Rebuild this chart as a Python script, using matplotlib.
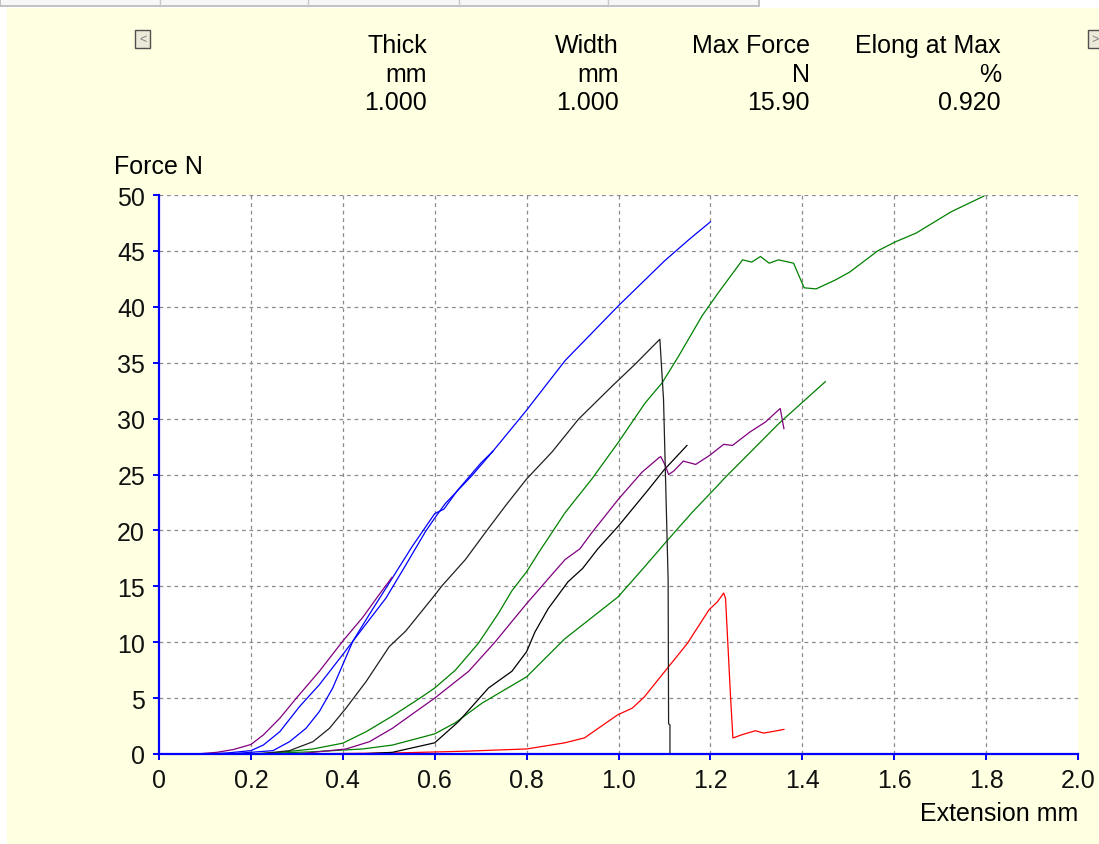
import numpy as np
import matplotlib
matplotlib.use("Agg")
import matplotlib.pyplot as plt
from matplotlib.patches import Rectangle

plt.rcParams['font.family'] = ['Liberation Sans', 'DejaVu Sans']

# ---- tensile test curves: extension (mm) vs force (N) ----
ext_purple_a = [0.0, 0.08, 0.126, 0.162, 0.2, 0.227, 0.263, 0.299, 0.349, 0.4, 0.443, 0.479, 0.507]
force_purple_a = [0, 0, 0.15, 0.4, 0.85, 1.7, 3.2, 5.0, 7.4, 10.1, 12.2, 14.25, 15.8]

ext_blue_b = [0.0, 0.1, 0.15, 0.2, 0.227, 0.263, 0.306, 0.349, 0.4, 0.45, 0.494, 0.537, 0.58, 0.6,
              0.623, 0.681, 0.725, 0.797, 0.884, 1.0, 1.1, 1.153, 1.2]
force_blue_b = [0, 0, 0.1, 0.3, 0.8, 2.0, 4.25, 6.2, 8.9, 11.6, 13.95, 16.9, 19.9, 21.1,
                22.4, 24.9, 27.0, 30.6, 35.2, 40.1, 44.1, 46.0, 47.6]

ext_blue_c = [0.0, 0.15, 0.2, 0.248, 0.284, 0.32, 0.349, 0.378, 0.4, 0.422, 0.458, 0.508, 0.55,
              0.58, 0.6, 0.62, 0.65, 0.7, 0.727]
force_blue_c = [0, 0, 0.15, 0.3, 1.1, 2.3, 3.8, 5.9, 8.0, 10.1, 12.5, 15.75, 18.5,
                20.3, 21.5, 21.9, 23.6, 26.0, 27.1]

ext_black_d = [0.0, 0.2, 0.227, 0.284, 0.335, 0.371, 0.407, 0.451, 0.501, 0.537, 0.595, 0.616,
               0.667, 0.71, 0.754, 0.8, 0.855, 0.913, 0.986, 1.037, 1.09, 1.098, 1.108, 1.109,
               1.112, 1.112]
force_black_d = [0, 0, 0.05, 0.3, 1.1, 2.3, 4.1, 6.5, 9.6, 11.0, 13.95, 15.05,
                 17.4, 19.8, 22.2, 24.6, 27.0, 29.95, 32.9, 34.9, 37.1, 31.7, 15.6, 2.7,
                 2.6, 0]

ext_black_e = [0.0, 0.4, 0.443, 0.508, 0.6, 0.652, 0.717, 0.768, 0.8, 0.818, 0.847, 0.89, 0.922,
               0.955, 1.0, 1.066, 1.099, 1.149]
force_black_e = [0, 0, 0.02, 0.15, 1.0, 2.9, 5.9, 7.4, 9.15, 10.9, 13.0, 15.4, 16.6,
                 18.35, 20.4, 23.7, 25.4, 27.6]

ext_purple_f = [0.0, 0.3, 0.335, 0.407, 0.458, 0.508, 0.6, 0.674, 0.731, 0.8, 0.834, 0.854, 0.884,
                0.916, 0.942, 1.0, 1.051, 1.088, 1.092, 1.102, 1.109, 1.12, 1.141, 1.168, 1.198,
                1.229, 1.248, 1.286, 1.32, 1.349, 1.352, 1.36]
force_purple_f = [0, 0, 0.15, 0.45, 1.1, 2.3, 5.0, 7.4, 10.0, 13.45, 15.05, 16.0, 17.4,
                  18.35, 19.8, 22.8, 25.2, 26.5, 26.6, 25.8, 25.0, 25.3, 26.2, 25.9, 26.7,
                  27.7, 27.6, 28.8, 29.7, 30.8, 30.9, 29.1]

ext_green_g = [0.0, 0.2, 0.263, 0.335, 0.4, 0.451, 0.508, 0.568, 0.6, 0.645, 0.695, 0.739, 0.768,
               0.8, 0.826, 0.884, 0.942, 1.0, 1.058, 1.095, 1.131, 1.182, 1.218, 1.27, 1.29,
               1.309, 1.328, 1.348, 1.381, 1.404, 1.43, 1.472, 1.503, 1.564, 1.602, 1.648,
               1.724, 1.795]
force_green_g = [0, 0, 0.15, 0.45, 0.97, 2.0, 3.4, 5.0, 5.9, 7.5, 9.9, 12.6, 14.6,
                 16.3, 18.0, 21.6, 24.6, 27.9, 31.4, 33.2, 35.6, 39.2, 41.3, 44.2, 44.0,
                 44.5, 43.9, 44.2, 43.9, 41.7, 41.6, 42.4, 43.1, 45.0, 45.8, 46.6,
                 48.5, 49.9]

ext_green_h = [0.0, 0.2, 0.335, 0.443, 0.508, 0.6, 0.645, 0.703, 0.8, 0.883, 0.999, 1.058, 1.102,
               1.16, 1.218, 1.229, 1.35, 1.45]
force_green_h = [0, 0, 0.2, 0.45, 0.8, 1.8, 2.8, 4.55, 6.9, 10.3, 14.05, 16.8, 18.9,
                 21.6, 24.1, 24.6, 29.6, 33.3]

ext_red_i = [0.0, 0.3, 0.522, 0.666, 0.8, 0.883, 0.926, 0.998, 1.03, 1.056, 1.103, 1.15, 1.197,
             1.215, 1.229, 1.233, 1.244, 1.249, 1.269, 1.298, 1.316, 1.334, 1.36]
force_red_i = [0, 0, 0.1, 0.25, 0.45, 1.0, 1.44, 3.5, 4.1, 5.1, 7.5, 9.9, 12.9,
               13.6, 14.4, 13.9, 5.0, 1.43, 1.73, 2.08, 1.87, 2.0, 2.2]

# ---- header table ----
header_names = ["Thick", "Width", "Max Force", "Elong at Max"]
header_units = ["mm", "mm", "N", "%"]
header_values = ["1.000", "1.000", "15.90", "0.920"]

x_ticks = [0.0, 0.2, 0.4, 0.6, 0.8, 1.0, 1.2, 1.4, 1.6, 1.8, 2.0]
x_tick_labels = ["0", "0.2", "0.4", "0.6", "0.8", "1.0", "1.2", "1.4", "1.6", "1.8", "2.0"]
y_ticks = [0, 5, 10, 15, 20, 25, 30, 35, 40, 45, 50]

FS = 18
W, H = 1099, 845
fig = plt.figure(figsize=(W / 100, H / 100), dpi=100)
fig.patch.set_facecolor("white")


def fx(px):
    return px / W


def fy(py):
    return 1 - py / H


# pale yellow panel and tab strip
fig.add_artist(Rectangle((fx(7), 0), 1 - fx(7), fy(9), transform=fig.transFigure,
                         facecolor="#FFFFE1", edgecolor="none", zorder=0))
fig.add_artist(Rectangle((0, fy(7)), fx(759), 7 / H, transform=fig.transFigure,
                         facecolor="#F7F7F7", edgecolor="#B8B8B8", linewidth=1.2, zorder=1))
for px in [160, 308, 459, 608]:
    fig.add_artist(plt.Line2D([fx(px), fx(px)], [fy(7), 1], transform=fig.transFigure,
                              color="#C8C8C8", linewidth=1))

# scroll buttons
for bx, label in [(135, "<"), (1088, ">")]:
    fig.add_artist(Rectangle((fx(bx), fy(49)), 15 / W, 18 / H, transform=fig.transFigure,
                             facecolor="#ECE9D8", edgecolor="#505050", linewidth=1.0, zorder=2))
    fig.text(fx(bx + 7.5), fy(40), label, ha="center", va="center", fontsize=9,
             color="#808080", zorder=3)

# header table text
col_right = [427, 619, 810, 1001]
for xr, name, unit, val in zip(col_right, header_names, header_units, header_values):
    fig.text(fx(xr), fy(46), name, ha="right", va="center", fontsize=FS)
    fig.text(fx(xr), fy(75), unit, ha="right", va="center", fontsize=FS)
    fig.text(fx(xr), fy(103), val, ha="right", va="center", fontsize=FS)

ax = fig.add_axes([fx(159), fy(755), 919 / W, 559 / H])
ax.set_facecolor("white")
ax.set_xlim(0, 2.0)
ax.set_ylim(0, 50)

curves = [
    (ext_green_h, force_green_h, "#008000"),
    (ext_green_g, force_green_g, "#008000"),
    (ext_red_i, force_red_i, "#FF0000"),
    (ext_black_e, force_black_e, "#000000"),
    (ext_purple_f, force_purple_f, "#800080"),
    (ext_black_d, force_black_d, "#202020"),
    (ext_blue_c, force_blue_c, "#0000FF"),
    (ext_blue_b, force_blue_b, "#0000FF"),
    (ext_purple_a, force_purple_a, "#800080"),
]
for xs, ys, col in curves:
    ax.plot(xs, ys, color=col, linewidth=0.9, solid_joinstyle="round")

ax.set_xticks(x_ticks)
ax.set_xticklabels(x_tick_labels)
ax.set_yticks(y_ticks)
ax.set_axisbelow(True)
ax.grid(True, color="#8C8C8C", linestyle=(0, (3, 3)), linewidth=0.9)
xgl = ax.get_xgridlines()
xgl[0].set_visible(False)
xgl[-1].set_visible(False)
ax.get_ygridlines()[0].set_visible(False)

for side in ["top", "right"]:
    ax.spines[side].set_visible(False)
for side in ["left", "bottom"]:
    ax.spines[side].set_color("#0000FF")
    ax.spines[side].set_linewidth(1.6)
    ax.spines[side].set_zorder(5)

ax.tick_params(axis="both", direction="out", length=4, width=1.4, color="#0000FF",
               labelsize=FS, labelcolor="#111111")
ax.tick_params(axis="y", pad=6)
ax.tick_params(axis="x", pad=6)

fig.text(fx(114), fy(167), "Force N", ha="left", va="center", fontsize=FS)
fig.text(fx(1078), fy(814), "Extension mm", ha="right", va="center", fontsize=FS)

fig.savefig("out.png", dpi=100, facecolor=fig.get_facecolor())
